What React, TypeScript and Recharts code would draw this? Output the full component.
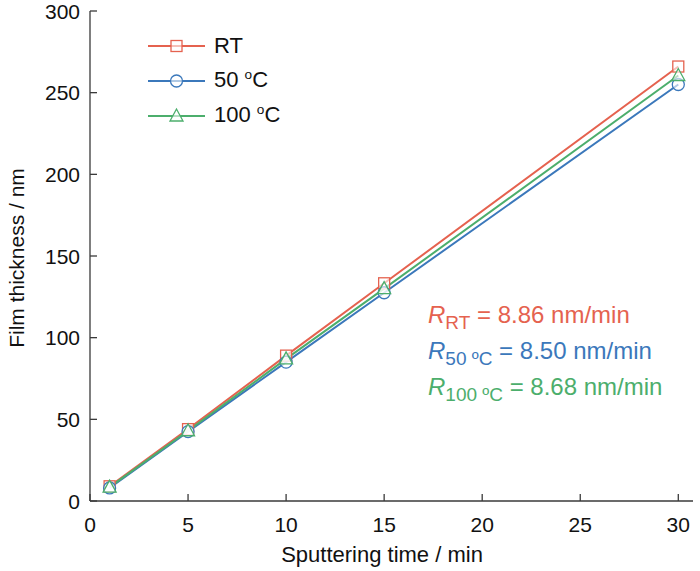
import React from "react";
import { LineChart, Line, XAxis, YAxis, Legend, Label } from "recharts";

const FONT = "'Liberation Sans', Arial, Helvetica, sans-serif";
const AXIS = "#3a3a3a";
const TICK = 8;

const TIMES = [1, 5, 10, 15, 30];
const RT = [9, 44, 89, 133.3, 266];
const C50 = [8, 42.5, 85, 127.5, 255];
const C100 = [8.5, 43, 87, 130, 260.5];

const X_TICKS = [0, 5, 10, 15, 20, 25, 30];
const Y_TICKS = [0, 50, 100, 150, 200, 250, 300];

const RED = "#e5624f";
const BLUE = "#3b78bb";
const GREEN = "#4cae6c";

const data = TIMES.map((t, i) => ({ t, rt: RT[i], c50: C50[i], c100: C100[i] }));

type Shape = "square" | "circle" | "triangle";

function Marker({ cx, cy, shape, color }: { cx: number; cy: number; shape: Shape; color: string }) {
  if (cx == null || cy == null) return null;
  if (shape === "square")
    return <rect x={cx - 5.5} y={cy - 5.5} width={11} height={11} fill="#fff" fillOpacity={0.6} stroke={color} strokeWidth={1.3} />;
  if (shape === "circle")
    return <circle cx={cx} cy={cy} r={6} fill="#fff" fillOpacity={0.6} stroke={color} strokeWidth={1.3} />;
  return (
    <polygon
      points={`${cx},${cy - 7} ${cx - 6.5},${cy + 5} ${cx + 6.5},${cy + 5}`}
      fill="#fff"
      fillOpacity={0.6}
      stroke={color}
      strokeWidth={1.3}
    />
  );
}

const SERIES: { key: string; label: React.ReactNode; color: string; shape: Shape }[] = [
  { key: "rt", label: "RT", color: RED, shape: "square" },
  { key: "c50", label: <>50 <sup style={{ fontSize: "0.62em" }}>o</sup>C</>, color: BLUE, shape: "circle" },
  { key: "c100", label: <>100 <sup style={{ fontSize: "0.62em" }}>o</sup>C</>, color: GREEN, shape: "triangle" },
];

// tick text sits TICK px outside the axis; draw the tick mark inward from the axis line
function XTick({ x, y, payload }: any) {
  const axisY = y - TICK;
  return (
    <g>
      <line x1={x} x2={x} y1={axisY} y2={axisY - 7} stroke={AXIS} strokeWidth={1.3} />
      <text x={x} y={axisY + 31} textAnchor="middle" fontSize={21} fill="#111" fontFamily={FONT}>
        {payload.value}
      </text>
    </g>
  );
}

function YTick({ x, y, payload }: any) {
  const axisX = x + TICK;
  return (
    <g>
      <line x1={axisX} x2={axisX + 7} y1={y} y2={y} stroke={AXIS} strokeWidth={1.3} />
      <text x={axisX - 10} y={y + 7.5} textAnchor="end" fontSize={21} fill="#111" fontFamily={FONT}>
        {payload.value}
      </text>
    </g>
  );
}

function LegendBox() {
  return (
    <div style={{ fontFamily: FONT, fontSize: 22, color: "#111" }}>
      {SERIES.map((s) => (
        <div key={s.key} style={{ display: "flex", alignItems: "center", height: 35 }}>
          <svg width={58} height={20}>
            <line x1={0} x2={57} y1={10} y2={10} stroke={s.color} strokeWidth={2} />
            <Marker cx={28.5} cy={10} shape={s.shape} color={s.color} />
          </svg>
          <span style={{ marginLeft: 8 }}>{s.label}</span>
        </div>
      ))}
    </div>
  );
}

const RATES = [
  { sub: "RT", value: "8.86", color: RED },
  { sub: "50 \u00baC", value: "8.50", color: BLUE },
  { sub: "100 \u00baC", value: "8.68", color: GREEN },
];

export default function App() {
  return (
    <div style={{ position: "absolute", left: 0, top: 0, width: 700, height: 571, background: "#fff" }}>
      <LineChart width={700} height={571} data={data} margin={{ top: 11, right: 7, left: 0, bottom: 0 }}>
        <XAxis
          dataKey="t"
          type="number"
          domain={[0, 30.75]}
          ticks={X_TICKS}
          interval={0}
          height={70}
          tickSize={TICK}
          tickMargin={0}
          tickLine={false}
          axisLine={{ stroke: AXIS, strokeWidth: 1.3 }}
          tick={<XTick />}
        >
          <Label
            content={() => (
              <text x={382} y={562} textAnchor="middle" fontSize={22} fill="#111" fontFamily={FONT}>
                Sputtering time / min
              </text>
            )}
          />
        </XAxis>
        <XAxis xAxisId="top" orientation="top" type="number" domain={[0, 1]} height={0} tick={false} tickLine={false} axisLine={{ stroke: AXIS, strokeWidth: 1.3 }} />
        <YAxis
          type="number"
          domain={[0, 300]}
          ticks={Y_TICKS}
          interval={0}
          width={90}
          tickSize={TICK}
          tickMargin={0}
          tickLine={false}
          axisLine={{ stroke: AXIS, strokeWidth: 1.3 }}
          tick={<YTick />}
        >
          <Label
            content={() => (
              <text x={18} y={258} transform="rotate(-90 18 258)" textAnchor="middle" dominantBaseline="middle" fontSize={21} fill="#111" fontFamily={FONT}>
                Film thickness / nm
              </text>
            )}
          />
        </YAxis>
        <YAxis yAxisId="right" orientation="right" type="number" domain={[0, 1]} width={0} tick={false} tickLine={false} axisLine={{ stroke: AXIS, strokeWidth: 1.3 }} />
        <Legend
          layout="horizontal"
          verticalAlign="middle"
          align="center"
          wrapperStyle={{ left: 148, top: 28, width: 200 }}
          content={() => <LegendBox />}
        />
        {SERIES.map((s) => (
          <Line
            key={s.key}
            type="linear"
            dataKey={s.key}
            stroke={s.color}
            strokeWidth={2}
            isAnimationActive={false}
            dot={(p: any) => <Marker key={`${s.key}-${p.index}`} cx={p.cx} cy={p.cy} shape={s.shape} color={s.color} />}
            activeDot={false}
          />
        ))}
      </LineChart>
      <div style={{ position: "absolute", left: 428, top: 297, fontFamily: FONT, fontSize: 24 }}>
        {RATES.map((r) => (
          <div key={r.sub} style={{ color: r.color, height: 36, lineHeight: "36px", whiteSpace: "nowrap" }}>
            <i>R</i>
            <sub style={{ fontSize: 19, verticalAlign: -6 }}>{r.sub}</sub> = {r.value} nm/min
          </div>
        ))}
      </div>
    </div>
  );
}
